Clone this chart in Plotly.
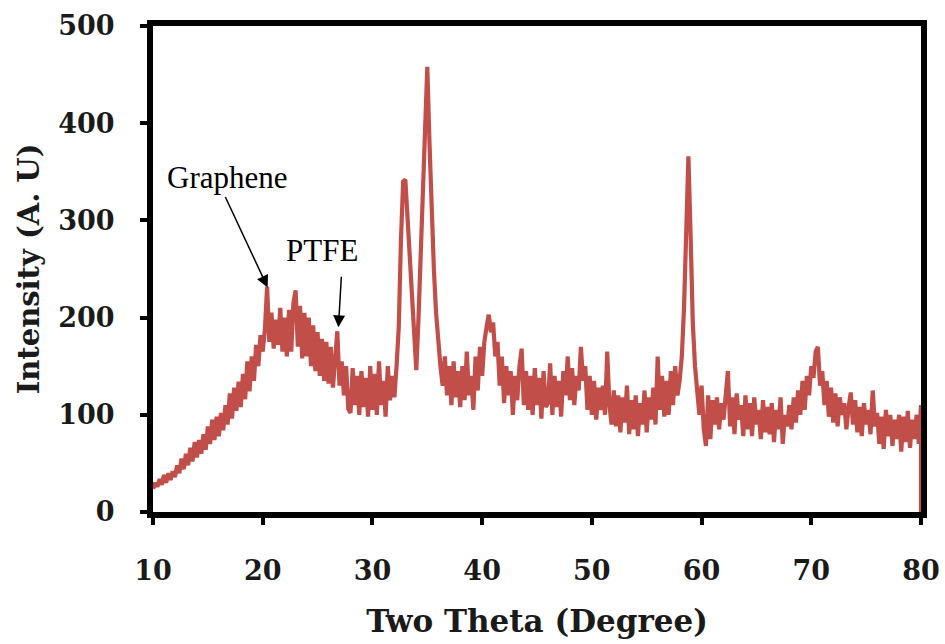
import numpy as np
import plotly.graph_objects as go

# Two-theta grid (degrees), 0.2 step from 10 to 80, plus the closing drop at 80
two_theta = [round(v, 1) for v in np.arange(10, 80.0001, 0.2)] + [80.0]

intensity = [
    # 10 - 11.8
    24, 30, 26, 34, 28, 38, 30, 40, 33, 42,
    # 12 - 13.8
    36, 48, 40, 55, 44, 60, 48, 66, 52, 72,
    # 14 - 15.8
    56, 74, 60, 80, 64, 88, 70, 95, 74, 98,
    # 16 - 17.8
    78, 102, 84, 110, 90, 122, 96, 128, 104, 134,
    # 18 - 19.8
    108, 142, 116, 155, 124, 160, 135, 172, 150, 182,
    # 20 - 21.8
    165, 188, 232, 175, 205, 168, 198, 172, 210, 165,
    # 22 - 23.8
    200, 160, 208, 165, 215, 228, 170, 212, 158, 205,
    # 24 - 25.8
    160, 200, 150, 192, 145, 185, 140, 178, 135, 175,
    # 26 - 27.8
    132, 170, 128, 162, 186, 130, 155, 120, 150, 106,
    # 28 - 29.8
    102, 148, 110, 140, 100, 145, 108, 138, 98, 150,
    # 30 - 31.8
    105, 142, 100, 155, 110, 135, 98, 150, 115, 140,
    # 32 - 33.8
    118, 150, 190, 280, 340, 342, 300, 255, 210, 172,
    # 34 - 35.8
    146, 200, 260, 330, 400, 458, 380, 300, 250, 205,
    # 36 - 37.8
    175, 150, 130, 160, 120, 150, 110, 155, 118, 145,
    # 38 - 39.8
    108, 150, 115, 165, 120, 140, 105, 160, 125, 170,
    # 40 - 41.8
    140, 175, 190, 203, 185, 195, 160, 175, 130, 160,
    # 42 - 43.8
    112, 150, 120, 145, 100, 140, 115, 150, 168, 110,
    # 44 - 45.8
    145, 105, 140, 100, 148, 110, 138, 96, 145, 108,
    # 46 - 47.8
    112, 153, 100, 140, 108, 135, 98, 145, 120, 160,
    # 48 - 49.8
    115, 148, 110, 140, 125, 170, 135, 150, 105, 140,
    # 50 - 51.8
    100, 135, 95, 128, 105, 130, 100, 165, 110, 90,
    # 52 - 53.8
    125, 88, 120, 82, 118, 92, 130, 80, 115, 85,
    # 54 - 55.8
    120, 78, 112, 90, 125, 82, 118, 95, 128, 90,
    # 56 - 57.8
    160, 105, 140, 98, 135, 100, 145, 110, 150, 120,
    # 58 - 59.8
    135, 160, 210, 290, 366, 285, 195, 150, 125, 100,
    # 60 - 61.8
    130, 85, 68, 120, 75, 115, 90, 118, 85, 112,
    # 62 - 63.8
    95, 125, 145, 88, 118, 80, 122, 95, 110, 78,
    # 64 - 65.8
    120, 85, 112, 78, 118, 90, 105, 75, 115, 82,
    # 66 - 67.8
    108, 80, 112, 72, 105, 85, 118, 70, 100, 88,
    # 68 - 69.8
    110, 85, 118, 92, 125, 100, 135, 105, 140, 120,
    # 70 - 71.8
    150, 138, 165, 170, 130, 145, 110, 135, 98, 128,
    # 72 - 73.8
    92, 122, 88, 118, 100, 112, 85, 108, 123, 90,
    # 74 - 75.8
    115, 82, 108, 78, 112, 90, 105, 80, 125, 88,
    # 76 - 77.8
    102, 70, 98, 65, 105, 78, 100, 68, 95, 75,
    # 78 - 79.8
    100, 62, 98, 72, 104, 66, 95, 75, 100, 70,
    # 80 and closing drop
    110, 0,
]

x_ticks = [10, 20, 30, 40, 50, 60, 70, 80]
y_ticks = [0, 100, 200, 300, 400, 500]

labels = ["Graphene", "PTFE"]
label_pos = [(16.8, 344), (25.4, 269)]
arrow_heads = [(20.45, 231), (26.9, 190)]

axis_font = "DejaVu Serif"
note_font = "Liberation Serif"

fig = go.Figure()
fig.add_trace(go.Scatter(
    x=two_theta, y=intensity, mode="lines",
    line=dict(color="#C24E4A", width=4.2),
    hoverinfo="skip", showlegend=False,
))

for txt, (lx, ly) in zip(labels, label_pos):
    fig.add_annotation(x=lx, y=ly, text=txt, showarrow=False,
                       font=dict(family=note_font, size=31, color="black"),
                       xanchor="center", yanchor="middle")

fig.add_annotation(x=arrow_heads[0][0], y=arrow_heads[0][1], text="",
                   showarrow=True, arrowhead=2, arrowsize=1.6, arrowwidth=1.5,
                   arrowcolor="black", ax=-43, ay=-92)
fig.add_annotation(x=arrow_heads[1][0], y=arrow_heads[1][1], text="",
                   showarrow=True, arrowhead=2, arrowsize=1.6, arrowwidth=1.5,
                   arrowcolor="black", ax=3, ay=-52)

axis_common = dict(
    showline=True, linecolor="black", linewidth=6, mirror=True,
    ticks="outside", ticklen=7, tickwidth=4, tickcolor="black",
    showgrid=False, zeroline=False, automargin=False,
    tickfont=dict(family=axis_font, size=27, color="#1a1a1a", weight="bold"),
)

fig.update_xaxes(range=[10, 80], tickvals=x_ticks, ticklabelstandoff=23,
                 title=dict(text="Two Theta (Degree)", standoff=27,
                            font=dict(family=axis_font, size=31, color="#1a1a1a", weight="bold")),
                 **axis_common)
fig.update_yaxes(range=[0, 500], tickvals=y_ticks, ticklabelstandoff=20,
                 title=dict(text="Intensity (A. U)", standoff=12,
                            font=dict(family=axis_font, size=29, color="#1a1a1a", weight="bold")),
                 **axis_common)

fig.update_layout(
    width=945, height=644,
    margin=dict(l=153, r=24, t=26, b=132),
    paper_bgcolor="white", plot_bgcolor="white",
)

fig.write_html("out.html")
